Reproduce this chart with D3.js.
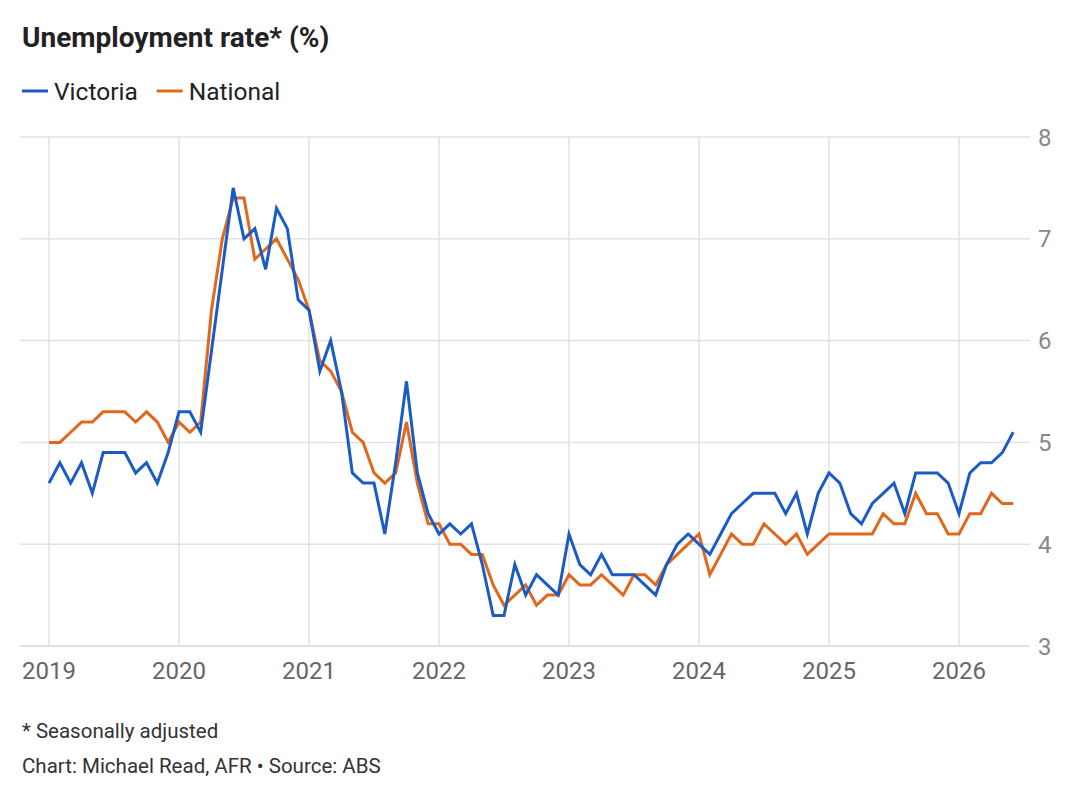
<!DOCTYPE html>
<html>
<head>
<meta charset="utf-8">
<script src="https://cdn.jsdelivr.net/npm/d3@7"></script>
<style>
  body { margin: 0; background: #fff; }
  svg { display: block; font-family: Roboto, "Noto Sans", sans-serif; }
</style>
</head>
<body>
<svg width="1080" height="799"></svg>
<script>
// monthly values, Jan 2019 - Jun 2026
var startYear = 2019;
var victoria = [
  4.6, 4.8, 4.6, 4.8, 4.5, 4.9, 4.9, 4.9, 4.7, 4.8, 4.6, 4.9,
  5.3, 5.3, 5.1, 5.9, 6.7, 7.5, 7.0, 7.1, 6.7, 7.3, 7.1, 6.4,
  6.3, 5.7, 6.0, 5.5, 4.7, 4.6, 4.6, 4.1, 4.8, 5.6, 4.7, 4.3,
  4.1, 4.2, 4.1, 4.2, 3.8, 3.3, 3.3, 3.8, 3.5, 3.7, 3.6, 3.5,
  4.1, 3.8, 3.7, 3.9, 3.7, 3.7, 3.7, 3.6, 3.5, 3.8, 4.0, 4.1,
  4.0, 3.9, 4.1, 4.3, 4.4, 4.5, 4.5, 4.5, 4.3, 4.5, 4.1, 4.5,
  4.7, 4.6, 4.3, 4.2, 4.4, 4.5, 4.6, 4.3, 4.7, 4.7, 4.7, 4.6,
  4.3, 4.7, 4.8, 4.8, 4.9, 5.1
];
var national = [
  5.0, 5.0, 5.1, 5.2, 5.2, 5.3, 5.3, 5.3, 5.2, 5.3, 5.2, 5.0,
  5.2, 5.1, 5.2, 6.3, 7.0, 7.4, 7.4, 6.8, 6.9, 7.0, 6.8, 6.6,
  6.3, 5.8, 5.7, 5.5, 5.1, 5.0, 4.7, 4.6, 4.7, 5.2, 4.6, 4.2,
  4.2, 4.0, 4.0, 3.9, 3.9, 3.6, 3.4, 3.5, 3.6, 3.4, 3.5, 3.5,
  3.7, 3.6, 3.6, 3.7, 3.6, 3.5, 3.7, 3.7, 3.6, 3.8, 3.9, 4.0,
  4.1, 3.7, 3.9, 4.1, 4.0, 4.0, 4.2, 4.1, 4.0, 4.1, 3.9, 4.0,
  4.1, 4.1, 4.1, 4.1, 4.1, 4.3, 4.2, 4.2, 4.5, 4.3, 4.3, 4.1,
  4.1, 4.3, 4.3, 4.5, 4.4, 4.4
];
var yearTicks = [2019, 2020, 2021, 2022, 2023, 2024, 2025, 2026];
var valueTicks = [3, 4, 5, 6, 7, 8];
var seriesNames = ["Victoria", "National"];
var seriesColors = ["#1b5bc6", "#e0681c"];

var svg = d3.select("svg");

var x = d3.scaleLinear()
  .domain([2019, 2026])
  .range([49, 959]);

var y = d3.scaleLinear()
  .domain([3, 8])
  .range([646, 137]);

// title
svg.append("text")
  .attr("x", 22).attr("y", 47)
  .attr("font-size", 28).attr("font-weight", 700)
  .attr("fill", "#222")
  .text("Unemployment rate* (%)");

// legend
var legend = svg.append("g");
var lx = 22;
seriesNames.forEach(function(name, i) {
  legend.append("line")
    .attr("x1", lx).attr("x2", lx + 26)
    .attr("y1", 91).attr("y2", 91)
    .attr("stroke", seriesColors[i]).attr("stroke-width", 3);
  var t = legend.append("text")
    .attr("x", lx + 32).attr("y", 100)
    .attr("font-size", 24.5).attr("fill", "#222")
    .text(name);
  lx += 32 + t.node().getComputedTextLength() + 19;
});

// grid
svg.append("g").selectAll("line")
  .data(valueTicks)
  .enter().append("line")
  .attr("x1", 20).attr("x2", 1030)
  .attr("y1", function(d) { return y(d); })
  .attr("y2", function(d) { return y(d); })
  .attr("stroke", function(d) { return d === 3 ? "#d6d6d6" : "#e2e2e2"; })
  .attr("stroke-width", 1.5);

svg.append("g").selectAll("line")
  .data(yearTicks)
  .enter().append("line")
  .attr("x1", function(d) { return x(d); })
  .attr("x2", function(d) { return x(d); })
  .attr("y1", y(8)).attr("y2", y(3))
  .attr("stroke", "#e2e2e2")
  .attr("stroke-width", 1.5);

// axis labels
svg.append("g").selectAll("text")
  .data(valueTicks)
  .enter().append("text")
  .attr("x", 1038)
  .attr("y", function(d) { return y(d); })
  .attr("dy", "0.36em")
  .attr("font-size", 24).attr("fill", "#888")
  .text(function(d) { return d; });

svg.append("g").selectAll("text")
  .data(yearTicks)
  .enter().append("text")
  .attr("x", function(d) { return x(d); })
  .attr("y", 679)
  .attr("text-anchor", "middle")
  .attr("font-size", 24).attr("fill", "#666")
  .text(function(d) { return d; });

// lines
var line = d3.line()
  .x(function(d, i) { return x(startYear + i / 12); })
  .y(function(d) { return y(d); });

[victoria, national].slice().reverse().forEach(function(s, j) {
  var i = 1 - j;
  svg.append("path")
    .datum(s)
    .attr("d", line)
    .attr("fill", "none")
    .attr("stroke", seriesColors[i])
    .attr("stroke-width", 3)
    .attr("stroke-linejoin", "miter");
});

// footnotes
svg.append("text")
  .attr("x", 22).attr("y", 738)
  .attr("font-size", 20.5).attr("fill", "#333")
  .text("* Seasonally adjusted");
svg.append("text")
  .attr("x", 22).attr("y", 773)
  .attr("font-size", 20.5).attr("fill", "#333")
  .text("Chart: Michael Read, AFR \u2022 Source: ABS");
</script>
</body>
</html>
